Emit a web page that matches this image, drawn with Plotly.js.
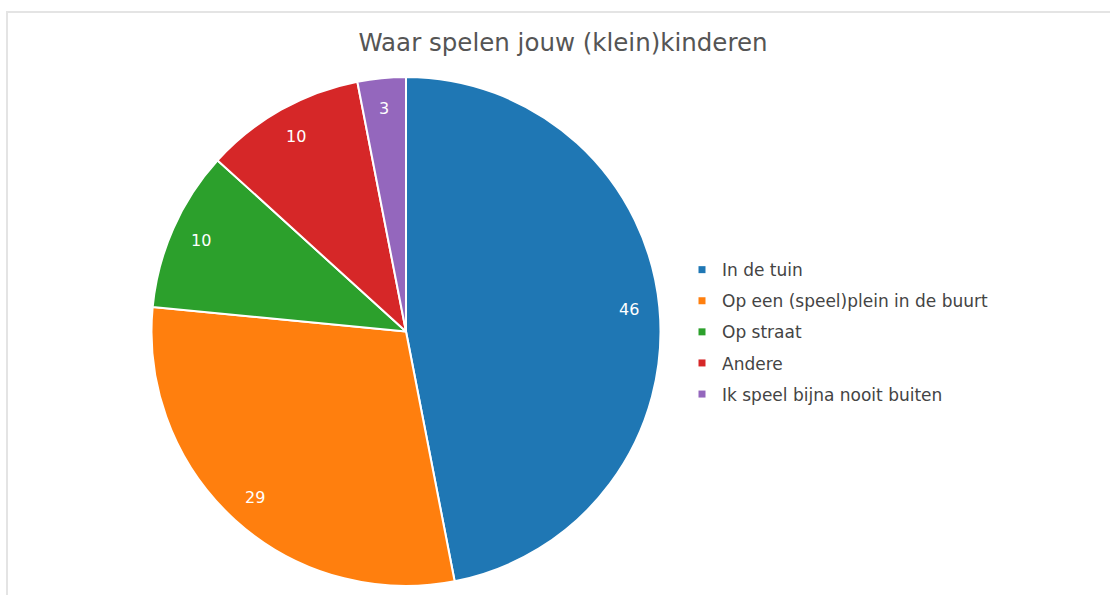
<!DOCTYPE html>
<html>
<head>
<meta charset="utf-8">
<script src="https://cdn.plot.ly/plotly-3.0.1.min.js"></script>
<style>
  html, body { margin: 0; padding: 0; background: #fff; }
  #frame { position: absolute; left: 6px; top: 11px; width: 1104px; height: 584px;
           border-left: 2px solid #e4e4e4; border-top: 2px solid #e4e4e4; box-sizing: border-box; pointer-events: none; }
  #chart { width: 1110px; height: 595px; }
</style>
</head>
<body>
<div id="chart"></div>
<div id="frame"></div>
<script>
const titleText = "Waar spelen jouw (klein)kinderen";
const labels = ["In de tuin", "Op een (speel)plein in de buurt", "Op straat", "Andere", "Ik speel bijna nooit buiten"];
const values = [46, 29, 10, 10, 3];
const colors = ["#1f77b4", "#ff7f0e", "#2ca02c", "#d62728", "#9467bd"];

const W = 1110, H = 595;
const margin = { l: 0, r: 0, t: 77, b: 9 };
const pieDomainX = [0, 812 / W];
const plotW = W - margin.l - margin.r;
const plotH = H - margin.t - margin.b;

const pie = {
  type: "pie",
  labels: labels,
  values: values,
  sort: false,
  direction: "clockwise",
  textinfo: "none",
  marker: { colors: colors, line: { color: "#ffffff", width: 2 } },
  domain: { x: pieDomainX, y: [0, 1] },
  showlegend: false,
  hoverinfo: "label+value+percent"
};

// value labels placed near the rim, at each slice's mid angle (derived from the values)
const total = values.reduce((a, b) => a + b, 0);
const radiusPx = Math.min((pieDomainX[1] - pieDomainX[0]) * plotW, plotH) / 2;
const cx = (pieDomainX[0] + pieDomainX[1]) / 2;
const cy = 0.5;
const labelFrac = 0.88;
let cum = 0;
const annotations = values.map((v) => {
  const mid = (cum + v / 2) / total * 2 * Math.PI;
  cum += v;
  return {
    xref: "paper", yref: "paper",
    x: cx + radiusPx * labelFrac * Math.sin(mid) / plotW,
    y: cy + radiusPx * labelFrac * Math.cos(mid) / plotH,
    text: String(v),
    showarrow: false,
    xanchor: "center", yanchor: "middle",
    font: { family: "DejaVu Sans", size: 16, color: "#ffffff" }
  };
});

const legendTraces = labels.map((lab, i) => ({
  type: "scatter",
  mode: "markers",
  x: [null], y: [null],
  name: lab,
  legendgroup: "g" + i,
  marker: { symbol: "square", size: 7, color: colors[i] },
  showlegend: true,
  hoverinfo: "skip"
}));

const layout = {
  width: W, height: H,
  margin: margin,
  paper_bgcolor: "#ffffff",
  plot_bgcolor: "#ffffff",
  title: {
    text: titleText,
    font: { family: "DejaVu Sans", size: 24.5, color: "#555555" },
    x: 563 / W, xanchor: "center",
    y: 1 - 42 / H, yanchor: "middle",
    xref: "paper", yref: "container"
  },
  xaxis: { visible: false },
  yaxis: { visible: false },
  annotations: annotations,
  showlegend: true,
  legend: {
    x: 682 / W, xanchor: "left",
    y: 0.656, yanchor: "top",
    font: { family: "DejaVu Sans", size: 17, color: "#444444" },
    tracegroupgap: 6,
    traceorder: "grouped",
    bgcolor: "rgba(0,0,0,0)"
  }
};

Plotly.newPlot("chart", [pie].concat(legendTraces), layout, { displayModeBar: false });
</script>
</body>
</html>
